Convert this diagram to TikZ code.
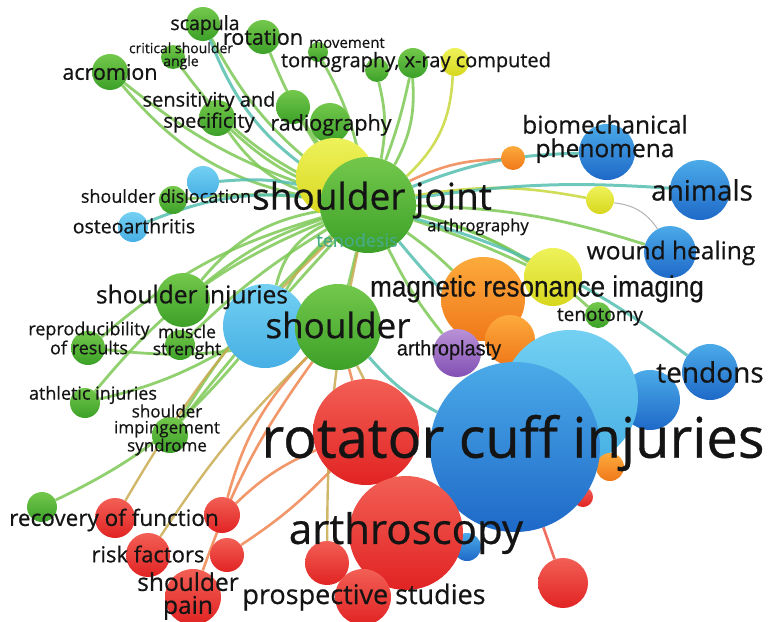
\documentclass[tikz,border=0pt]{standalone}
\usepackage{fontspec}
\setmainfont{Open Sans}[FakeBold=0.6]
\newfontfamily\narrowf{Liberation Sans}[FakeBold=0.4]
\usetikzlibrary{backgrounds}
\newcommand{\fz}[2]{\fontsize{#1}{#2}\selectfont}
\definecolor{gT}{RGB}{115,200,75}
\definecolor{gB}{RGB}{60,160,40}
\definecolor{yT}{RGB}{238,242,90}
\definecolor{yB}{RGB}{215,215,30}
\definecolor{oT}{RGB}{252,170,60}
\definecolor{oB}{RGB}{240,120,25}
\definecolor{rT}{RGB}{242,95,85}
\definecolor{rB}{RGB}{225,35,35}
\definecolor{lT}{RGB}{115,208,242}
\definecolor{lB}{RGB}{70,175,228}
\definecolor{bT}{RGB}{75,170,232}
\definecolor{bB}{RGB}{30,105,200}
\definecolor{pT}{RGB}{185,145,215}
\definecolor{pB}{RGB}{130,80,180}
\definecolor{txt}{RGB}{20,20,20}
\definecolor{egreen}{RGB}{125,200,85}
\definecolor{eyellow}{RGB}{200,215,60}
\definecolor{eteal}{RGB}{85,190,175}
\definecolor{eorange}{RGB}{240,140,90}
\definecolor{etan}{RGB}{200,170,80}
\definecolor{ered}{RGB}{240,110,95}
\definecolor{teno}{RGB}{70,170,130}
\tikzset{
  ball/.style={circle, inner sep=0pt, minimum size=#1, draw=none},
  gb/.style={ball=#1, top color=gT, bottom color=gB},
  yb/.style={ball=#1, top color=yT, bottom color=yB},
  ob/.style={ball=#1, top color=oT, bottom color=oB},
  rb/.style={ball=#1, top color=rT, bottom color=rB},
  lb/.style={ball=#1, top color=lT, bottom color=lB},
  bb/.style={ball=#1, top color=bT, bottom color=bB},
  pb/.style={ball=#1, top color=pT, bottom color=pB},
  lab/.style={inner sep=0pt, text=txt, align=center},
  ge/.style={draw=egreen, line width=2.8pt, opacity=0.85},
  ye/.style={draw=eyellow, line width=2.6pt, opacity=0.85},
  te/.style={draw=eteal, line width=3pt, opacity=0.85},
  oe/.style={draw=eorange, line width=2.6pt, opacity=0.9},
  tane/.style={draw=etan, line width=2.4pt, opacity=0.85},
  re/.style={draw=ered, line width=2.6pt},
  grayline/.style={draw=gray!60, line width=1pt},
}
\begin{document}
\begin{tikzpicture}[x=1pt,y=-1pt]
\useasboundingbox (0,0) rectangle (768,621);
% ---- circles ----
\node[gb=34pt] (scap) at (203,24) {};
\node[gb=34pt] (rot) at (263,37) {};
\node[gb=24pt] (crit) at (173,57) {};
\node[gb=36pt] (acro) at (110,72) {};
\node[gb=20pt] (move) at (318,52) {};
\node[gb=24pt] (tom1) at (377,70) {};
\node[gb=30pt] (tom2) at (413,63) {};
\node[yb=28pt] (ytom) at (455,62) {};
\node[gb=36pt] (sens) at (217,118) {};
\node[gb=34pt] (rad1) at (293,107) {};
\node[gb=40pt] (rad2) at (330,123) {};
\node[yb=78pt] (ybig) at (335,177) {};
\node[gb=96pt] (sj) at (368,205) {};
\node[lb=32pt] (bdisl) at (203,182) {};
\node[gb=28pt] (gdisl) at (173,200) {};
\node[lb=30pt] (bosteo) at (133,227) {};
\node[ob=24pt] (osmall) at (513,158) {};
\node[yb=28pt] (ysmall) at (600,200) {};
\node[bb=56pt] (bio) at (607,152) {};
\node[bb=60pt] (anim) at (700,190) {};
\node[bb=52pt] (wound) at (670,252) {};
\node[yb=58pt] (ymri) at (553,277) {};
\node[ob=84pt] (omri) at (483,299) {};
\node[gb=26pt] (tenot) at (598,315) {};
\node[gb=54pt] (inj) at (183,300) {};
\node[lb=84pt] (lbsh) at (265,326) {};
\node[gb=86pt] (sh) at (338,327) {};
\node[ob=50pt] (obeh) at (510,340) {};
\node[pb=48pt] (parth) at (457,353) {};
\node[bb=60pt] (bmed) at (650,400) {};
\node[lb=136pt] (lbbig) at (570,398) {};
\node[bb=56pt] (tend) at (710,372) {};
\node[gb=34pt] (repro) at (88,348) {};
\node[gb=30pt] (muscle) at (180,345) {};
\node[gb=30pt] (athl) at (85,403) {};
\node[gb=36pt] (imp) at (170,435) {};
\node[gb=30pt] (rec) at (42,507) {};
\node[rb=106pt] (rbig) at (366,432) {};
\node[ob=28pt] (oinj) at (610,467) {};
\node[rb=20pt] (rbeh) at (583,497) {};
\node[bb=170pt] (brot) at (515,447) {};
\node[bb=28pt] (bsmall) at (467,547) {};
\node[rb=114pt] (rarth) at (406,533) {};
\node[rb=44pt] (ra1) at (327,563) {};
\node[rb=56pt] (rpros) at (363,597) {};
\node[rb=50pt] (rright) at (563,583) {};
\node[rb=40pt] (rrec) at (115,518) {};
\node[rb=36pt] (rmid) at (222,515) {};
\node[rb=44pt] (rrisk) at (148,555) {};
\node[rb=34pt] (rmid2) at (227,555) {};
\node[rb=56pt] (rpain) at (193,597) {};
% ---- connectors ----
\begin{scope}[on background layer]
\draw[ge] (sj) to[bend left=12] (scap);
\draw[te] (sj) to[bend left=18] (scap);
\draw[ge] (sj) to[bend left=8] (rot);
\draw[ge] (sj) to[bend left=20] (acro);
\draw[ge] (sj) to[bend left=10] (acro);
\draw[ge] (sj) to[bend left=14] (crit);
\draw[ge] (sj) to[bend right=8] (move);
\draw[ge] (sj) to[bend right=12] (tom1);
\draw[ge] (sj) to[bend right=16] (tom2);
\draw[ge] (sj) to[bend right=4] (tom2);
\draw[ye] (sj) to[bend right=22] (ytom);
\draw[ge] (sj) to[bend left=10] (sens);
\draw[ge] (sj) to[bend left=20] (sens);
\draw[ge] (sj) to[bend left=5] (rad1);
\draw[ge] (sj) to (rad2);
\draw[te] (sj) to[bend right=10] (bdisl);
\draw[ge] (sj) to[bend right=6] (gdisl);
\draw[te] (sj) to[bend right=14] (bosteo);
\draw[ge] (sj) to[bend right=10] (inj);
\draw[ge] (sj) to[bend right=20] (inj);
\draw[ge] (sj) to[bend right=12] (repro);
\draw[ge] (sj) to[bend right=6] (muscle);
\draw[ge] (sj) to[bend right=14] (athl);
\draw[ge] (sj) to[bend right=8] (imp);
\draw[ge] (sj) to[bend right=2] (imp);
\draw[ge] (lbsh) to[bend left=12] (rec);
\draw[ge] (sh) to[bend left=10] (repro);
\draw[ge] (lbsh) to[bend left=8] (athl);
\draw[oe] (sj) to[bend left=12] (osmall);
\draw[ye] (sj) to[bend left=10] (ysmall);
\draw[te] (sj) to[bend left=10] (bio);
\draw[te] (sj) to[bend left=6] (anim);
\draw[ge] (sj) to[bend left=8] (wound);
\draw[ge] (sj) to[bend left=10] (ymri);
\draw[ge] (sj) to[bend left=3] (ymri);
\draw[ge] (sj) to[bend left=14] (tenot);
\draw[te] (sj) to[bend left=10] (tend);
\draw[te] (sj) to[bend right=6] (lbbig);
\draw[ge] (sj) to[bend left=4] (omri);
\draw[ge] (sj) to[bend right=6] (parth);
\draw[ge] (sj) to (sh);
\draw[ge] (sj) to[bend right=10] (lbsh);
\draw[ge] (sj) to[bend right=25] (lbsh);
\draw[grayline] (ysmall) to[bend left=25] (wound);
\draw[oe] (sh) to[bend right=8] (rpain);
\draw[oe] (sh) to[bend right=14] (rmid);
\draw[oe] (rbig) to[bend left=6] (rmid2);
\draw[oe] (rbig) to[bend right=10] (rmid);
\draw[tane] (sh) to[bend right=6] (rrisk);
\draw[tane] (sj) to[bend right=8] (rrec);
\draw[tane] (sj) to[bend right=6] (ra1);
\draw[tane] (sh) to[bend left=8] (rarth);
\draw[oe] (sh) to (rbig);
\draw[re] (brot) -- (rright);
\draw[te] (sh) to[bend right=10] (brot);
\end{scope}
% ---- labels ----
\node[lab, font=\fz{19.5}{21}] (Lscap) at (205,25) {scapula};
\node[lab, font=\fz{21.5}{23}] (Lrot) at (263,37) {rotation};
\node[lab, font=\fz{14}{13}] (Lcrit) at (181,56) {critical shoulder\\angle};
\node[lab, font=\fz{21.5}{23}] (Lacro) at (110,72) {acromion};
\node[lab, font=\fz{15}{17}] (Lmove) at (347,43) {movement};
\node[lab, font=\fz{20}{22}] (Ltom) at (416,62) {tomography, x-ray computed};
\node[lab, font=\fz{20}{20}] (Lsens) at (209,112) {sensitivity and\\specificity};
\node[lab, font=\fz{21.5}{23}] (Lrad) at (331,125) {radiography};
\node[lab, font=\fz{37}{39}] (Lsj) at (372,200) {shoulder joint};
\node[lab, font=\fz{18}{20}, text=teno] (Lteno) at (357,240) {tenodesis};
\node[lab, font=\fz{16.5}{18}] (Lartg) at (478,227) {arthrography};
\node[lab, font=\fz{18}{20}] (Ldisl) at (166,196) {shoulder dislocation};
\node[lab, font=\fz{19.5}{21}] (Losteo) at (134,226) {osteoarthritis};
\node[lab, font=\fz{24.5}{23.5}] (Lbio) at (605,139) {biomechanical\\phenomena};
\node[lab, font=\fz{28}{30}] (Lanim) at (702,190) {animals};
\node[lab, font=\fz{24.5}{26}] (Lwound) at (671,253) {wound healing};
\node[lab, font={\narrowf\fz{29}{31}}, xscale=0.9] (Lmri) at (537,289) {magnetic resonance imaging};
\node[lab, font=\fz{19}{21}] (Lteno2) at (600,317) {tenotomy};
\node[lab, font=\fz{24.5}{26}] (Linj) at (192,297) {shoulder injuries};
\node[lab, font=\fz{35}{37}] (Lsh) at (338,325) {shoulder};
\node[lab, font={\narrowf\fz{21}{23}}, xscale=0.95] (Larth) at (449,350) {arthroplasty};
\node[lab, font=\fz{28}{30}] (Ltend) at (710,372) {tendons};
\node[lab, font=\fz{18}{18}] (Lrepro) at (89,338) {reproducibility\\of results};
\node[lab, font=\fz{17.5}{17}] (Lmusc) at (187,342) {muscle\\strenght};
\node[lab, font=\fz{18}{20}] (Lathl) at (93,395) {athletic injuries};
\node[lab, font=\fz{17}{16}] (Limp) at (167,430) {shoulder\\impingement\\syndrome};
\node[lab, font=\fz{56}{58}] (Lrci) at (513,443) {rotator cuff injuries};
\node[lab, font=\fz{22.5}{24}] (Lrec) at (114,520) {recovery of function};
\node[lab, font=\fz{22}{24}] (Lrisk) at (148,554) {risk factors};
\node[lab, font=\fz{24.5}{23}] (Lpain) at (188,596) {shoulder\\pain};
\node[lab, font=\fz{42}{44}] (Larthro) at (406,533) {arthroscopy};
\node[lab, font=\fz{27}{29}] (Lpros) at (364,597) {prospective studies};
\end{tikzpicture}
\end{document}
